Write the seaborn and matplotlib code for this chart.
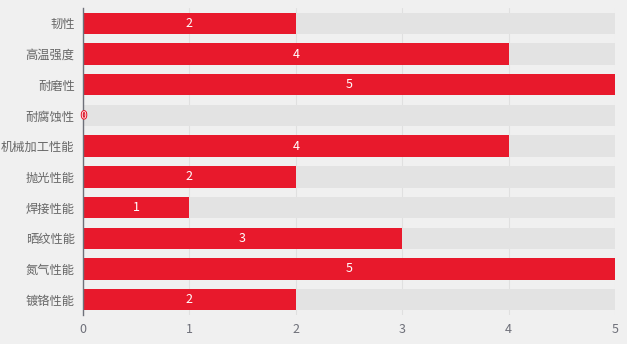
import matplotlib
matplotlib.use("Agg")
import matplotlib.pyplot as plt
import matplotlib.patheffects as pe
import seaborn as sns
import pandas as pd
import numpy as np

categories = ["韧性", "高温强度", "耐磨性", "耐腐蚀性", "机械加工性能",
              "抛光性能", "焊接性能", "晒纹性能", "氮气性能", "镀铬性能"]
values = [2, 4, 5, 0, 4, 2, 1, 3, 5, 2]
max_value = 5
x_ticks = [0, 1, 2, 3, 4, 5]

sns.set_theme(style="white")
plt.rcParams['font.family'] = ['Noto Sans CJK SC', 'DejaVu Sans']

df = pd.DataFrame({"cat": categories, "val": values, "bg": [max_value] * len(categories)})

fig = plt.figure(figsize=(6.27, 3.44), dpi=100, facecolor="#f0f0f0")
ax = fig.add_axes([83 / 627, 1 - 315 / 344, (615 - 83) / 627, (315 - 8) / 344])
ax.set_facecolor("#f0f0f0")

sns.barplot(data=df, y="cat", x="bg", orient="h", color="#e3e3e3", width=0.7,
            saturation=1, ax=ax, zorder=2, linewidth=0)
sns.barplot(data=df, y="cat", x="val", orient="h", color="#e8192c", width=0.7,
            saturation=1, ax=ax, zorder=3, linewidth=0)

n = len(categories)
ax.set_xlim(0, max_value)
ax.set_ylim(n - 0.5, -0.5)
ax.set_xticks(x_ticks)
ax.set_xticklabels([str(t) for t in x_ticks], color="#6e7079", fontsize=9)
ax.tick_params(axis="x", length=0, pad=6)
for t in x_ticks[1:]:
    ax.axvline(t, color="#e0e0e0", lw=0.8, zorder=1)

ax.set_yticks(range(n))
ax.set_yticklabels(categories, color="#666666", fontsize=8.8)
ax.tick_params(axis="y", which="major", length=0, pad=6)
ax.set_yticks(np.arange(-0.5, n, 1), minor=True)
ax.tick_params(axis="y", which="minor", length=5, color="#6e7079", width=1)

for s in ["top", "right", "bottom"]:
    ax.spines[s].set_visible(False)
ax.spines["left"].set_color("#6e7079")
ax.spines["left"].set_linewidth(1)
ax.spines["left"].set_zorder(5)
ax.set_xlabel("")
ax.set_ylabel("")

for i, v in enumerate(values):
    if v > 0:
        ax.text(v / 2, i, str(v), ha="center", va="center", color="white",
                fontsize=9, zorder=6)
    else:
        ax.text(0.01, i, str(v), ha="center", va="center", color="white",
                fontsize=7, zorder=6,
                path_effects=[pe.withStroke(linewidth=1.5, foreground="#e8192c")])

fig.savefig("out.png", dpi=100, facecolor=fig.get_facecolor())
